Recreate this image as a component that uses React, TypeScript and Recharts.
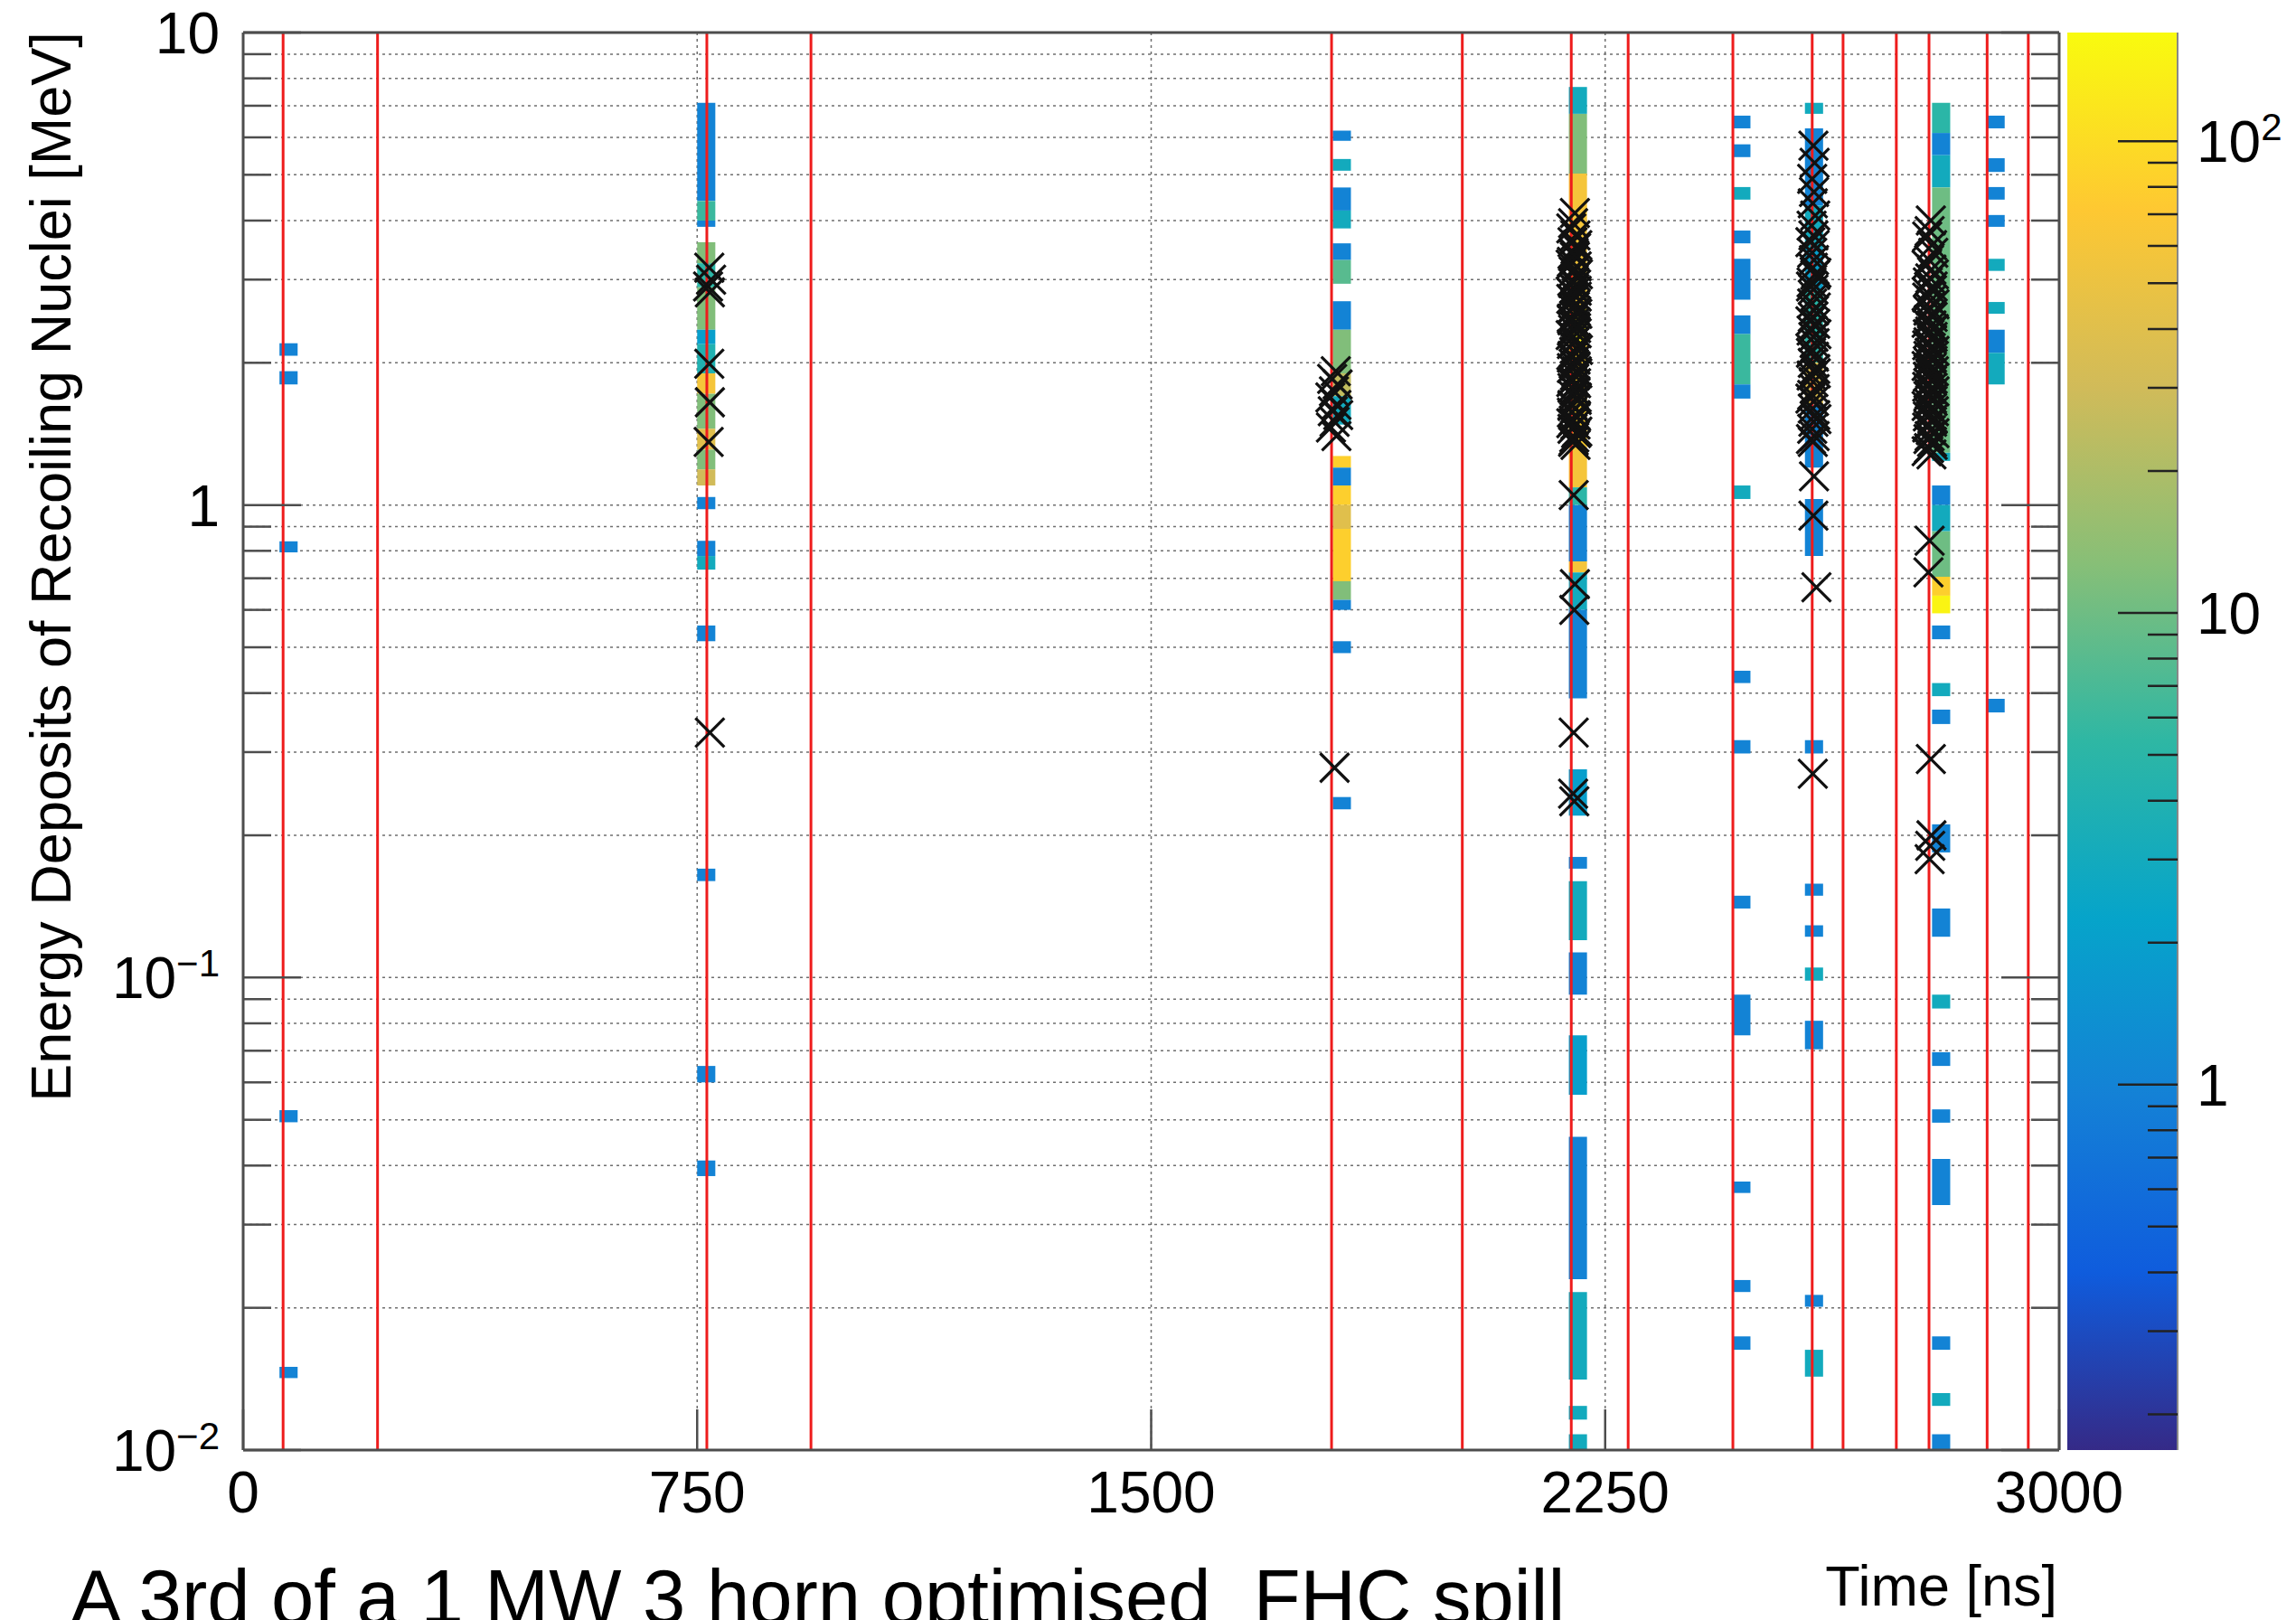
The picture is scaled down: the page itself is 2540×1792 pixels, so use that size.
import React from 'react';
import {
  ScatterChart,
  Scatter,
  XAxis,
  YAxis,
  CartesianGrid,
  ReferenceArea,
  ReferenceLine,
} from 'recharts';

const WIDTH = 2540;
const HEIGHT = 1792;
const FONT = '"Liberation Sans", Arial, Helvetica, sans-serif';
const AXIS = '#4d4d4d';

// axis ticks
const xTicks = [0, 750, 1500, 2250, 3000];
const xTopTicks = [750, 1500, 2250];
const yTicks = [
  0.01, 0.02, 0.03, 0.04, 0.05, 0.06, 0.07, 0.08, 0.09,
  0.1, 0.2, 0.3, 0.4, 0.5, 0.6, 0.7, 0.8, 0.9,
  1, 2, 3, 4, 5, 6, 7, 8, 9, 10,
];
const zTicks = [
  0.2, 0.3, 0.4, 0.5, 0.6, 0.7, 0.8, 0.9,
  1, 2, 3, 4, 5, 6, 7, 8, 9,
  10, 20, 30, 40, 50, 60, 70, 80, 90, 100,
];
const zDomain: [number, number] = [0.168, 170];

// time bin width of the histogram [ns]
const binWidth = 30;

// bunch times (red lines) [ns]
const bunchTimes = [66, 222, 766, 938, 1798, 2014, 2194, 2288, 2461, 2592, 2643, 2731, 2785, 2881, 2949];

// filled cells per time bin: [E low, E high, entries]
const cells60 = [
  [2.07, 2.2, 1], [1.8, 1.92, 1], [0.794, 0.838, 1], [0.0494, 0.0524, 1], [0.0142, 0.015, 1],
];
const cells750 = [
  [4.4, 7.1, 1], [4.0, 4.4, 6], [3.88, 4.0, 1], [3.25, 3.6, 12], [2.89, 3.25, 5],
  [2.35, 2.89, 12], [2.19, 2.35, 2], [1.9, 2.19, 4], [1.72, 1.9, 60], [1.45, 1.72, 12],
  [1.31, 1.45, 40], [1.19, 1.31, 12], [1.1, 1.19, 30], [0.98, 1.04, 1], [0.78, 0.84, 1],
  [0.73, 0.78, 3], [0.515, 0.556, 1], [0.16, 0.17, 1], [0.06, 0.065, 1], [0.038, 0.041, 1],
];
const cells1800 = [
  [5.9, 6.2, 1], [5.1, 5.4, 3], [4.2, 4.7, 1], [3.85, 4.2, 3], [3.3, 3.58, 1],
  [2.94, 3.3, 8], [2.35, 2.7, 1], [1.9, 2.35, 12], [1.7, 1.9, 25], [1.48, 1.7, 3],
  [1.2, 1.27, 80], [1.1, 1.2, 1], [1.0, 1.1, 80], [0.89, 1.0, 40], [0.69, 0.89, 80],
  [0.63, 0.69, 12], [0.6, 0.63, 1], [0.486, 0.515, 1], [0.227, 0.241, 1],
];
const cells2190 = [
  [6.73, 7.67, 3], [5.03, 6.73, 12], [4.0, 5.03, 60], [2.6, 4.0, 60], [2.2, 2.6, 150],
  [1.33, 2.2, 80], [1.09, 1.33, 60], [1.0, 1.09, 5], [0.76, 1.0, 1], [0.72, 0.76, 60],
  [0.6, 0.72, 3], [0.39, 0.6, 1], [0.22, 0.276, 2], [0.17, 0.18, 1], [0.12, 0.16, 3],
  [0.092, 0.113, 1], [0.0565, 0.0755, 2], [0.023, 0.046, 1], [0.0141, 0.0216, 3],
  [0.0116, 0.0124, 3], [0.01, 0.0108, 3],
];
const cells2460 = [
  [6.27, 6.67, 1], [5.45, 5.8, 1], [4.43, 4.71, 3], [3.58, 3.81, 1], [2.72, 3.32, 1],
  [2.3, 2.52, 1], [1.8, 2.3, 6], [1.68, 1.8, 1], [1.03, 1.1, 3], [0.42, 0.446, 1],
  [0.298, 0.318, 1], [0.14, 0.149, 1], [0.0755, 0.092, 1], [0.035, 0.037, 1],
  [0.0216, 0.0229, 1], [0.0163, 0.0174, 1],
];
const cells2580 = [
  [6.73, 7.1, 3], [4.3, 6.27, 1], [3.5, 4.3, 3], [2.85, 3.5, 2], [2.0, 2.85, 5],
  [1.63, 2.0, 40], [1.2, 1.63, 1], [0.78, 1.03, 1], [0.298, 0.318, 1], [0.149, 0.158, 1],
  [0.122, 0.129, 1], [0.0985, 0.105, 3], [0.0705, 0.081, 1], [0.0201, 0.0213, 1],
  [0.0143, 0.0163, 3],
];
const cells2790 = [
  [6.13, 7.1, 5], [5.5, 6.13, 1], [4.7, 5.5, 3], [4.0, 4.7, 10], [1.29, 4.0, 10],
  [1.24, 1.29, 3], [1.0, 1.1, 1], [0.88, 1.0, 3], [0.705, 0.88, 10], [0.643, 0.705, 80],
  [0.59, 0.643, 150], [0.52, 0.556, 1], [0.394, 0.42, 3], [0.344, 0.369, 1],
  [0.184, 0.211, 1], [0.122, 0.14, 1], [0.086, 0.092, 3], [0.065, 0.0695, 1],
  [0.0493, 0.0526, 1], [0.033, 0.0413, 1], [0.0163, 0.0174, 1], [0.0124, 0.0132, 3],
  [0.01, 0.0108, 1],
];
const cells2880 = [
  [6.27, 6.67, 1], [5.07, 5.42, 1], [4.43, 4.71, 1], [3.88, 4.11, 1], [3.13, 3.32, 3],
  [2.54, 2.69, 3], [2.1, 2.35, 1], [1.8, 2.1, 3], [0.364, 0.389, 1],
];

const histColumns: [number, number[][]][] = [
  [60, cells60], [750, cells750], [1800, cells1800], [2190, cells2190],
  [2460, cells2460], [2580, cells2580], [2790, cells2790], [2880, cells2880],
];

// recoil markers: [t ns, E MeV]
const crosses750 = [
  [770, 3.18], [773, 3.0], [768, 2.9], [771, 2.82], [770, 1.99], [771, 1.65], [769, 1.36], [771, 0.33],
];
const crosses1800 = [
  [1805, 1.92], [1799, 1.85], [1808, 1.8], [1802, 1.74], [1796, 1.69], [1806, 1.63],
  [1800, 1.58], [1809, 1.55], [1803, 1.5], [1797, 1.46], [1806, 1.4], [1803, 0.278],
];
const crosses2190 = [
  [2200, 4.15], [2197, 3.95], [2201, 3.72], [2196, 3.6], [2202, 3.5], [2198, 3.42],
  [2200, 3.35], [2195, 3.27], [2203, 3.2], [2198, 3.12], [2201, 3.05], [2196, 2.98],
  [2202, 2.93], [2199, 2.87], [2195, 2.81], [2203, 2.76], [2197, 2.71], [2201, 2.66],
  [2196, 2.61], [2202, 2.57], [2199, 2.52], [2195, 2.48], [2201, 2.44], [2200, 2.39],
  [2197, 2.35], [2203, 2.31], [2198, 2.27], [2201, 2.23], [2195, 2.19], [2202, 2.15],
  [2199, 2.11], [2196, 2.07], [2201, 2.03], [2198, 1.99], [2195, 1.95], [2203, 1.92],
  [2200, 1.88], [2197, 1.84], [2202, 1.81], [2196, 1.77], [2201, 1.74], [2198, 1.7],
  [2203, 1.67], [2196, 1.63], [2200, 1.6], [2195, 1.57], [2202, 1.54], [2198, 1.51],
  [2201, 1.48], [2196, 1.45], [2202, 1.42], [2199, 1.39], [2197, 1.36], [2201, 1.34],
  [2194, 3.85], [2204, 3.55], [2199, 3.38], [2193, 3.23], [2205, 3.08], [2197, 2.95],
  [2203, 2.84], [2194, 2.73], [2200, 2.63], [2204, 2.54], [2196, 2.46], [2202, 2.37],
  [2193, 2.29], [2199, 2.21], [2205, 2.13], [2195, 2.05], [2201, 1.97], [2204, 1.9],
  [2194, 1.82], [2199, 1.75], [2203, 1.69], [2196, 1.62], [2201, 1.55], [2194, 1.49],
  [2204, 1.43], [2198, 1.37],
  [2198, 1.05], [2200, 0.68], [2199, 0.6], [2198, 0.33], [2197, 0.245], [2199, 0.236],
];
const crosses2580 = [
  [2594, 5.76], [2596, 5.3], [2592, 4.9], [2595, 4.6], [2593, 4.35], [2597, 4.1],
  [2591, 3.9], [2594, 3.72], [2596, 3.55], [2592, 3.42], [2595, 3.3], [2593, 3.18],
  [2597, 3.07], [2591, 2.96], [2594, 2.86], [2596, 2.76], [2592, 2.67], [2595, 2.58],
  [2593, 2.5], [2597, 2.42], [2591, 2.34], [2594, 2.27], [2596, 2.2], [2592, 2.13],
  [2595, 2.06], [2593, 2.0], [2597, 1.94], [2591, 1.88], [2594, 1.82], [2596, 1.76],
  [2592, 1.71], [2595, 1.66], [2593, 1.6], [2597, 1.55], [2594, 1.5], [2592, 1.45],
  [2596, 1.4], [2593, 1.36],
  [2589, 3.6], [2599, 3.1], [2590, 2.9], [2598, 2.62], [2589, 2.45], [2599, 2.3],
  [2590, 2.1], [2598, 1.9], [2589, 1.68], [2599, 1.52], [2590, 1.38],
  [2595, 1.15], [2594, 0.95], [2599, 0.67], [2593, 0.27],
];
const crosses2790 = [
  [2788, 4.0], [2786, 3.8], [2790, 3.55], [2785, 3.3], [2789, 3.15], [2787, 3.02],
  [2791, 2.9], [2784, 2.8], [2788, 2.71], [2786, 2.62], [2790, 2.54], [2785, 2.47],
  [2789, 2.4], [2787, 2.33], [2791, 2.27], [2784, 2.21], [2788, 2.15], [2786, 2.1],
  [2790, 2.05], [2785, 2.0], [2789, 1.95], [2787, 1.9], [2791, 1.85], [2784, 1.81],
  [2788, 1.76], [2786, 1.72], [2790, 1.68], [2785, 1.64], [2789, 1.6], [2787, 1.56],
  [2791, 1.52], [2784, 1.48], [2788, 1.44], [2786, 1.4], [2790, 1.36], [2785, 1.32],
  [2789, 1.28],
  [2782, 3.7], [2792, 3.42], [2781, 3.22], [2793, 3.08], [2783, 2.96], [2790, 2.85],
  [2782, 2.75], [2794, 2.66], [2784, 2.58], [2791, 2.5], [2781, 2.43], [2793, 2.36],
  [2783, 2.3], [2790, 2.24], [2782, 2.18], [2794, 2.12], [2784, 2.07], [2791, 2.02],
  [2781, 1.97], [2793, 1.92], [2783, 1.87], [2790, 1.83], [2782, 1.78], [2794, 1.74],
  [2784, 1.7], [2791, 1.66], [2781, 1.62], [2793, 1.58], [2783, 1.54], [2790, 1.5],
  [2782, 1.46], [2794, 1.42], [2784, 1.38], [2791, 1.34], [2781, 1.3],
  [2786, 0.84], [2784, 0.72], [2788, 0.29], [2789, 0.2], [2787, 0.19], [2786, 0.178],
];

const crossData = [...crosses750, ...crosses1800, ...crosses2190, ...crosses2580, ...crosses2790]
  .map(([t, e]) => ({ t, e }));

// ROOT kBird palette
const birdStops: [number, string][] = [
  [0, '#352a87'], [0.125, '#0f5cdd'], [0.25, '#1481d6'], [0.375, '#06a4ca'],
  [0.5, '#2eb7a4'], [0.625, '#87bf77'], [0.75, '#d1bb59'], [0.875, '#fec832'], [1, '#f9fb0e'],
];

function hexToRgb(h: string) {
  return [1, 3, 5].map((i) => parseInt(h.slice(i, i + 2), 16));
}

function birdColor(n: number) {
  const lo = Math.log10(zDomain[0]);
  const hi = Math.log10(zDomain[1]);
  const f = Math.min(1, Math.max(0, (Math.log10(n) - lo) / (hi - lo)));
  for (let i = 1; i < birdStops.length; i++) {
    const [o1, c1] = birdStops[i - 1];
    const [o2, c2] = birdStops[i];
    if (f <= o2) {
      const k = (f - o1) / (o2 - o1);
      const a = hexToRgb(c1);
      const b = hexToRgb(c2);
      const rgb = a.map((v, j) => Math.round(v + (b[j] - v) * k));
      return `rgb(${rgb.join(',')})`;
    }
  }
  return birdStops[birdStops.length - 1][1];
}

const isDecade = (v: number) => Math.abs(Math.log10(v) - Math.round(Math.log10(v))) < 1e-6;

function DecadeLabel({ x, y, v, anchor }: { x: number; y: number; v: number; anchor: string }) {
  const p = Math.round(Math.log10(v));
  const base = p === 0 ? '1' : '10';
  const sup = p === 0 || p === 1 ? null : p < 0 ? `\u2212${-p}` : String(p);
  return (
    <text x={x} y={y + 23} textAnchor={anchor} fontSize={64} fontFamily={FONT} fill="#000">
      {base}
      {sup && (
        <tspan dy={-24} fontSize={42}>
          {sup}
        </tspan>
      )}
    </text>
  );
}

function LeftTick(props: any) {
  const { x, y, payload } = props;
  const major = isDecade(payload.value);
  return (
    <g>
      <line x1={x} x2={x + (major ? 64 : 31)} y1={y} y2={y} stroke={AXIS} strokeWidth={2.5} />
      {major && <DecadeLabel x={x - 26} y={y} v={payload.value} anchor="end" />}
    </g>
  );
}

function RightTick(props: any) {
  const { x, y, payload } = props;
  const major = isDecade(payload.value);
  return <line x1={x} x2={x - (major ? 64 : 31)} y1={y} y2={y} stroke={AXIS} strokeWidth={2.5} />;
}

function BottomTick(props: any) {
  const { x, y, payload } = props;
  return (
    <g>
      <line x1={x} x2={x} y1={y} y2={y - 45} stroke={AXIS} strokeWidth={2.5} />
      <text x={x} y={y + 69} textAnchor="middle" fontSize={64} fontFamily={FONT} fill="#000">
        {payload.value}
      </text>
    </g>
  );
}

function TopTick(props: any) {
  const { x, y } = props;
  return <line x1={x} x2={x} y1={y} y2={y + 45} stroke={AXIS} strokeWidth={2.5} />;
}

function PaletteTick(props: any) {
  const { x, y, payload } = props;
  const major = isDecade(payload.value);
  return (
    <g>
      <line x1={x} x2={x - (major ? 66 : 33)} y1={y} y2={y} stroke="#222" strokeWidth={2.5} />
      {major && <DecadeLabel x={x + 21} y={y} v={payload.value} anchor="start" />}
    </g>
  );
}

function CrossShape(props: any) {
  const { cx, cy } = props;
  const s = 16;
  return (
    <path
      d={`M${cx - s},${cy - s}L${cx + s},${cy + s}M${cx - s},${cy + s}L${cx + s},${cy - s}`}
      stroke="#111"
      strokeWidth={3.2}
      fill="none"
    />
  );
}

// single anchor point so the palette chart has data for its axes
const paletteAnchor = [{ x: 0.5, z: 1 }];

export default function App() {
  return (
    <div
      style={{
        position: 'absolute',
        left: 0,
        top: 0,
        width: WIDTH,
        height: HEIGHT,
        background: '#fff',
        overflow: 'hidden',
      }}
    >
      <svg width={0} height={0} style={{ position: 'absolute' }}>
        <defs>
          <linearGradient id="birdGradient" x1="0" y1="1" x2="0" y2="0">
            {birdStops.map(([o, c]) => (
              <stop key={o} offset={o} stopColor={c} />
            ))}
          </linearGradient>
        </defs>
      </svg>

      <div style={{ position: 'absolute', left: 0, top: 0 }}>
        <ScatterChart width={WIDTH} height={HEIGHT} margin={{ top: 35, right: 261, bottom: 98, left: 0 }}>
          <CartesianGrid stroke="#6f6f6f" strokeWidth={1.5} strokeDasharray="3 4" />
          <XAxis
            type="number"
            dataKey="t"
            domain={[0, 3000]}
            ticks={xTicks}
            interval={0}
            allowDataOverflow
            height={90}
            tickSize={0}
            tickMargin={0}
            tickLine={false}
            axisLine={{ stroke: AXIS, strokeWidth: 3 }}
            tick={<BottomTick />}
          />
          <XAxis
            xAxisId="top"
            orientation="top"
            type="number"
            domain={[0, 3000]}
            ticks={xTopTicks}
            interval={0}
            allowDataOverflow
            height={1}
            tickSize={0}
            tickMargin={0}
            tickLine={false}
            axisLine={{ stroke: AXIS, strokeWidth: 3 }}
            tick={<TopTick />}
          />
          <YAxis
            type="number"
            dataKey="e"
            scale="log"
            domain={[0.01, 10]}
            ticks={yTicks}
            interval={0}
            allowDataOverflow
            width={269}
            tickSize={0}
            tickMargin={0}
            tickLine={false}
            axisLine={{ stroke: AXIS, strokeWidth: 3 }}
            tick={<LeftTick />}
          />
          <YAxis
            yAxisId="right"
            orientation="right"
            type="number"
            scale="log"
            domain={[0.01, 10]}
            ticks={yTicks}
            interval={0}
            allowDataOverflow
            width={1}
            tickSize={0}
            tickMargin={0}
            tickLine={false}
            axisLine={{ stroke: AXIS, strokeWidth: 3 }}
            tick={<RightTick />}
          />
          {histColumns.flatMap(([t, cells]) =>
            cells.map(([lo, hi, n], i) => (
              <ReferenceArea
                key={`c-${t}-${i}`}
                x1={t}
                x2={t + binWidth}
                y1={lo}
                y2={hi}
                fill={birdColor(n)}
                fillOpacity={1}
                stroke="none"
                ifOverflow="hidden"
              />
            )),
          )}
          <Scatter data={crossData} shape={(p: any) => <CrossShape {...p} />} isAnimationActive={false} />
          {bunchTimes.map((t) => (
            <ReferenceLine key={`b-${t}`} x={t} stroke="#ee1c1c" strokeWidth={3} ifOverflow="hidden" />
          ))}
        </ScatterChart>
      </div>

      <div style={{ position: 'absolute', left: 0, top: 0 }}>
        <ScatterChart width={WIDTH} height={HEIGHT} margin={{ top: 36, right: 0, bottom: 188, left: 2287 }}>
          <XAxis type="number" dataKey="x" domain={[0, 1]} allowDataOverflow hide />
          <YAxis
            type="number"
            dataKey="z"
            orientation="right"
            scale="log"
            domain={zDomain}
            ticks={zTicks}
            interval={0}
            allowDataOverflow
            width={131}
            tickSize={0}
            tickMargin={0}
            tickLine={false}
            axisLine={{ stroke: '#888', strokeWidth: 2 }}
            tick={<PaletteTick />}
          />
          <ReferenceArea
            y1={zDomain[0]}
            y2={zDomain[1]}
            fill="url(#birdGradient)"
            fillOpacity={1}
            stroke="none"
            ifOverflow="visible"
          />
          <Scatter data={paletteAnchor} shape={() => <g />} isAnimationActive={false} />
        </ScatterChart>
      </div>

      <svg
        width={WIDTH}
        height={HEIGHT}
        style={{ position: 'absolute', left: 0, top: 0, pointerEvents: 'none' }}
        fontFamily={FONT}
      >
        <text transform="translate(78 627) rotate(-90)" textAnchor="middle" fontSize={63} fill="#000">
          Energy Deposits of Recoiling Nuclei [MeV]
        </text>
        <text x={2276} y={1776} textAnchor="end" fontSize={63} fill="#000">
          Time [ns]
        </text>
        <text x={78} y={1796} fontSize={85} fill="#000" style={{ whiteSpace: 'pre' }}>
          {'A 3rd of a 1 MW 3 horn optimised  FHC spill'}
        </text>
      </svg>
    </div>
  );
}
